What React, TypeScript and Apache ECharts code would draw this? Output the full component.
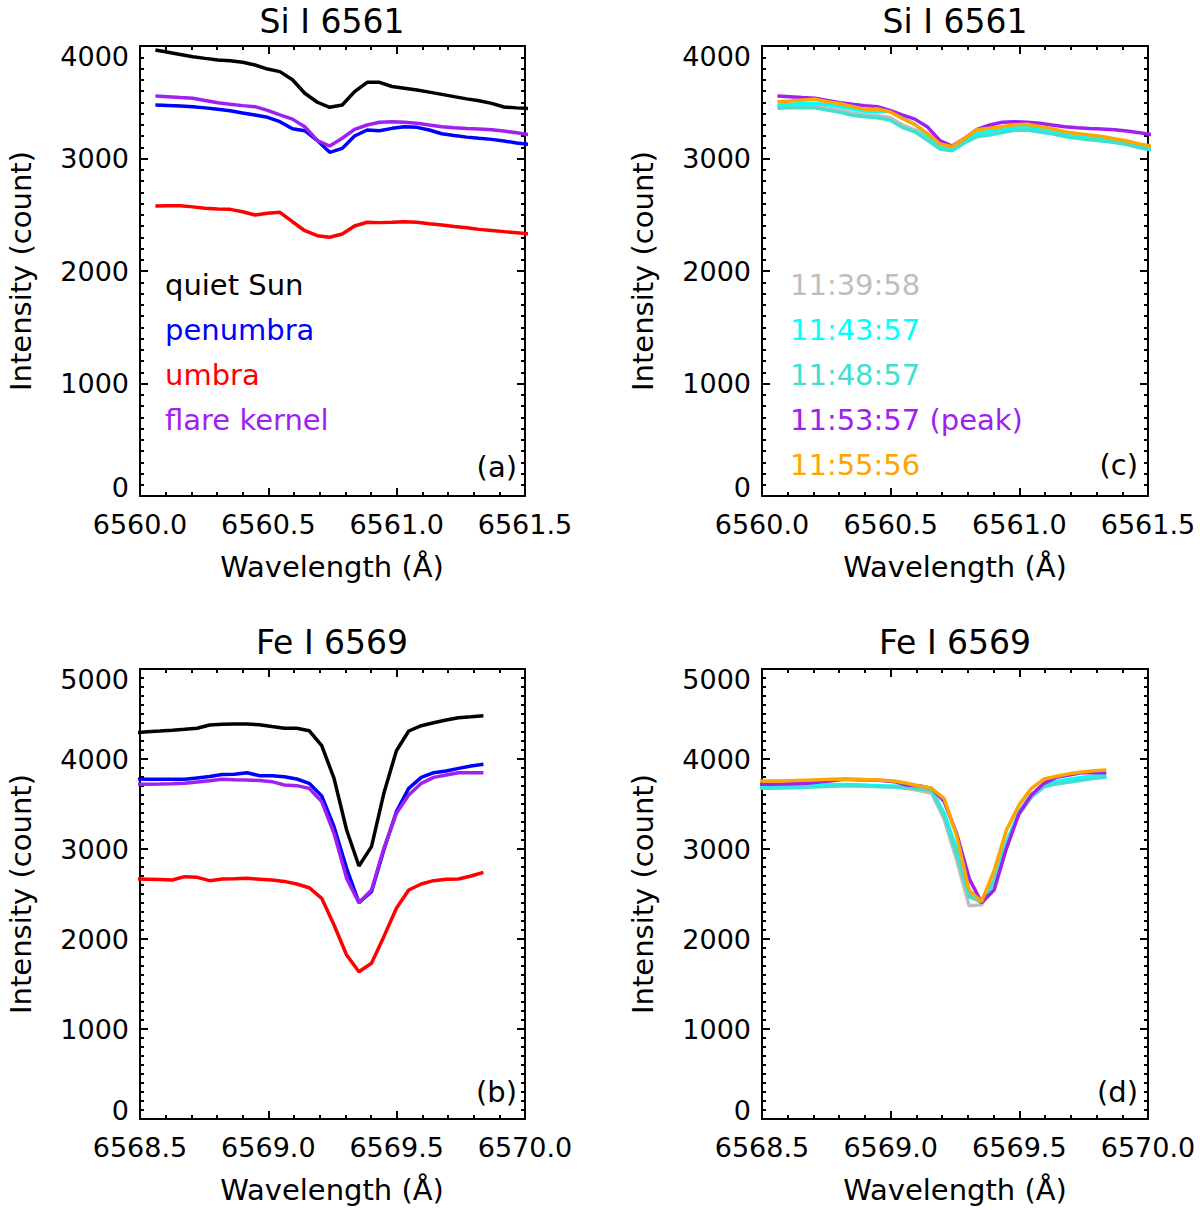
import React, { useEffect, useRef } from "react";
import * as echarts from "echarts";

// Wavelength grids (Å)
const lamSi = [6560.060, 6560.109, 6560.157, 6560.206, 6560.254, 6560.303, 6560.351, 6560.400, 6560.448, 6560.497, 6560.545, 6560.594, 6560.642, 6560.691, 6560.739, 6560.788, 6560.836, 6560.885, 6560.933, 6560.982, 6561.030, 6561.079, 6561.127, 6561.176, 6561.224, 6561.273, 6561.321, 6561.370, 6561.418, 6561.467, 6561.515];
const lamFe = [6568.480, 6568.529, 6568.577, 6568.626, 6568.674, 6568.723, 6568.771, 6568.820, 6568.868, 6568.917, 6568.965, 6569.014, 6569.062, 6569.111, 6569.159, 6569.208, 6569.256, 6569.305, 6569.353, 6569.402, 6569.450, 6569.499, 6569.547, 6569.596, 6569.644, 6569.693, 6569.741, 6569.790, 6569.838];

// Panel (a): Si I 6561 by region
const siQuiet = [3964, 3945, 3925, 3905, 3890, 3876, 3868, 3855, 3831, 3795, 3772, 3700, 3580, 3500, 3455, 3476, 3594, 3677, 3677, 3640, 3625, 3609, 3590, 3570, 3550, 3530, 3514, 3490, 3458, 3450, 3445];
const siPenumbra = [3476, 3472, 3467, 3461, 3450, 3437, 3424, 3405, 3387, 3366, 3327, 3265, 3247, 3160, 3055, 3090, 3200, 3253, 3247, 3268, 3283, 3277, 3253, 3220, 3205, 3190, 3180, 3170, 3156, 3138, 3125];
const siUmbra = [2578, 2580, 2580, 2570, 2557, 2552, 2548, 2527, 2498, 2513, 2522, 2438, 2358, 2314, 2300, 2329, 2400, 2433, 2430, 2433, 2438, 2433, 2420, 2409, 2395, 2385, 2370, 2360, 2350, 2340, 2330];
const siFlare = [3556, 3549, 3542, 3535, 3515, 3496, 3483, 3470, 3461, 3428, 3387, 3350, 3283, 3160, 3111, 3180, 3259, 3298, 3322, 3327, 3322, 3313, 3298, 3283, 3274, 3266, 3262, 3255, 3244, 3228, 3212];

// Panel (b): Fe I 6569 by region
const feQuiet = [4290, 4303, 4310, 4320, 4330, 4341, 4378, 4385, 4389, 4389, 4380, 4360, 4341, 4341, 4314, 4148, 3785, 3211, 2811, 3026, 3619, 4092, 4311, 4370, 4403, 4433, 4459, 4470, 4481];
const fePenumbra = [3778, 3776, 3774, 3774, 3774, 3790, 3805, 3828, 3830, 3848, 3815, 3815, 3803, 3778, 3730, 3589, 3248, 2785, 2404, 2526, 2989, 3415, 3674, 3796, 3848, 3867, 3896, 3922, 3941];
const feUmbra = [2667, 2664, 2660, 2656, 2693, 2685, 2648, 2667, 2670, 2674, 2665, 2655, 2640, 2611, 2570, 2452, 2156, 1822, 1637, 1730, 2026, 2341, 2544, 2611, 2648, 2663, 2667, 2700, 2741];
const feFlare = [3719, 3720, 3722, 3726, 3730, 3745, 3759, 3774, 3770, 3767, 3760, 3748, 3711, 3704, 3674, 3526, 3174, 2674, 2404, 2544, 3007, 3396, 3600, 3730, 3796, 3822, 3848, 3848, 3848];

// Panel (c): Si I 6561 flare kernel by time
const siT1 = [3460, 3465, 3470, 3468, 3450, 3430, 3405, 3390, 3380, 3365, 3300, 3255, 3180, 3090, 3075, 3145, 3210, 3225, 3245, 3262, 3268, 3250, 3235, 3210, 3192, 3178, 3166, 3152, 3135, 3105, 3085];
const siT2 = [3475, 3480, 3488, 3490, 3480, 3462, 3440, 3420, 3415, 3420, 3365, 3300, 3210, 3110, 3085, 3160, 3225, 3240, 3258, 3275, 3280, 3262, 3245, 3220, 3200, 3185, 3172, 3160, 3140, 3115, 3090];
const siT3 = [3446, 3450, 3452, 3450, 3430, 3410, 3385, 3370, 3362, 3342, 3277, 3238, 3164, 3085, 3069, 3140, 3195, 3209, 3230, 3250, 3253, 3235, 3220, 3195, 3180, 3166, 3155, 3141, 3125, 3095, 3075];
const siT4 = siFlare;
const siT5 = [3505, 3512, 3520, 3526, 3505, 3488, 3462, 3437, 3440, 3416, 3357, 3304, 3224, 3130, 3105, 3180, 3255, 3268, 3283, 3300, 3304, 3285, 3265, 3238, 3222, 3208, 3195, 3175, 3155, 3130, 3110];

// Panel (d): Fe I 6569 flare kernel by time
const feT1 = [3690, 3692, 3694, 3696, 3700, 3705, 3710, 3712, 3708, 3702, 3698, 3690, 3672, 3650, 3620, 3330, 2880, 2370, 2380, 2640, 3050, 3380, 3575, 3690, 3725, 3745, 3768, 3790, 3805];
const feT2 = [3690, 3692, 3695, 3698, 3702, 3708, 3714, 3718, 3714, 3708, 3704, 3700, 3688, 3672, 3655, 3400, 3000, 2500, 2405, 2640, 3080, 3410, 3605, 3718, 3750, 3775, 3795, 3810, 3822];
const feT3 = [3674, 3676, 3678, 3680, 3686, 3692, 3698, 3704, 3700, 3696, 3693, 3690, 3680, 3670, 3650, 3370, 2950, 2470, 2410, 2650, 3063, 3390, 3581, 3693, 3725, 3745, 3765, 3785, 3796];
const feT4 = feFlare;
const feT5 = [3756, 3756, 3756, 3760, 3765, 3770, 3775, 3778, 3775, 3770, 3765, 3756, 3730, 3700, 3674, 3560, 3150, 2540, 2415, 2760, 3211, 3490, 3674, 3778, 3808, 3835, 3855, 3870, 3878];

const regionLabels = ["quiet Sun", "penumbra", "umbra", "flare kernel"];
const timeLabels = ["11:39:58", "11:43:57", "11:48:57", "11:53:57 (peak)", "11:55:56"];
const regionColors = ["#000000", "#0000ff", "#ff0000", "#a020f0"];
const timeColors = ["#bebebe", "#00ffff", "#40e0d0", "#a020f0", "#ffa500"];

const FONT = "DejaVu Sans";

export default function App() {
  const ref = useRef<HTMLDivElement>(null);
  useEffect(() => {
    if (!ref.current) return;
    const chart = echarts.init(ref.current, undefined, { renderer: "svg" });

    const grids = [
      { left: 140, top: 46, width: 385, height: 450 },
      { left: 140, top: 669, width: 385, height: 450 },
      { left: 762, top: 46, width: 386, height: 450 },
      { left: 762, top: 669, width: 386, height: 450 },
    ];
    const xr = [
      [6560, 6561.5],
      [6568.5, 6570],
      [6560, 6561.5],
      [6568.5, 6570],
    ];
    const yr = [4000, 5000, 4000, 5000];

    const axLine = { show: true, onZero: false, lineStyle: { color: "#000", width: 2 } };
    const tickFont = { fontSize: 27, fontFamily: FONT, color: "#000" };
    const xAxes: any[] = [];
    const yAxes: any[] = [];
    grids.forEach((g, k) => {
      [false, true].forEach((top) => {
        xAxes.push({
          type: "value",
          gridIndex: k,
          position: top ? "top" : "bottom",
          min: xr[k][0],
          max: xr[k][1],
          interval: 0.5,
          axisLine: axLine,
          axisTick: { show: true, inside: true, length: 8, lineStyle: { color: "#000", width: 2 } },
          minorTick: { show: true, splitNumber: 5, length: 4, lineStyle: { color: "#000", width: 2 } },
          splitLine: { show: false },
          axisLabel: {
            show: !top,
            margin: 15,
            ...tickFont,
            showMinLabel: true,
            showMaxLabel: true,
            formatter: (v: number) => v.toFixed(1),
          },
        });
        const ymax = yr[k];
        yAxes.push({
          type: "value",
          gridIndex: k,
          position: top ? "right" : "left",
          min: 0,
          max: ymax,
          interval: 1000,
          axisLine: axLine,
          axisTick: { show: true, inside: true, length: 8, lineStyle: { color: "#000", width: 2 } },
          minorTick: { show: true, splitNumber: 10, length: 4, lineStyle: { color: "#000", width: 2 } },
          splitLine: { show: false },
          axisLabel: {
            show: !top,
            margin: 11,
            ...tickFont,
            showMinLabel: true,
            showMaxLabel: true,
            formatter: (v: number) => (v === ymax ? `{t|${v}}` : v === 0 ? `{b|${v}}` : String(v)),
            rich: {
              t: { ...tickFont, padding: [20, 0, 0, 0] },
              b: { ...tickFont, padding: [0, 0, 18, 0] },
            },
          },
        });
      });
    });

    const mk = (name: string, lam: number[], vals: number[], color: string, panel: number) => ({
      type: "line",
      name,
      xAxisIndex: panel * 2,
      yAxisIndex: panel * 2,
      data: lam.map((x, i) => [x, vals[i]]),
      showSymbol: false,
      symbol: "none",
      clip: true,
      lineStyle: { color, width: 3.5 },
      itemStyle: { color },
      emphasis: { disabled: true },
    });

    const regionSi = [siQuiet, siPenumbra, siUmbra, siFlare];
    const regionFe = [feQuiet, fePenumbra, feUmbra, feFlare];
    const timeSi = [siT1, siT2, siT3, siT4, siT5];
    const timeFe = [feT1, feT2, feT3, feT4, feT5];

    const series: any[] = [];
    regionSi.forEach((v, i) => series.push(mk(regionLabels[i], lamSi, v, regionColors[i], 0)));
    regionFe.forEach((v, i) => series.push(mk(regionLabels[i], lamFe, v, regionColors[i], 1)));
    timeSi.forEach((v, i) => series.push(mk(timeLabels[i], lamSi, v, timeColors[i], 2)));
    timeFe.forEach((v, i) => series.push(mk(timeLabels[i], lamFe, v, timeColors[i], 3)));

    const txt = (text: string, x: number, y: number, size: number, color = "#000", align = "center", rotation = 0) => ({
      type: "text",
      x,
      y,
      rotation,
      style: { text, fill: color, font: `${size}px "${FONT}"`, textAlign: align, textVerticalAlign: "middle" },
      z: 10,
    });

    const graphics: any[] = [
      txt("Si I 6561", 332, 21, 33),
      txt("Si I 6561", 955, 21, 33),
      txt("Fe I 6569", 332, 642, 33),
      txt("Fe I 6569", 955, 642, 33),
      txt("Wavelength (Å)", 332, 567, 29),
      txt("Wavelength (Å)", 955, 567, 29),
      txt("Wavelength (Å)", 332, 1190, 29),
      txt("Wavelength (Å)", 955, 1190, 29),
      txt("Intensity (count)", 21, 271, 29, "#000", "center", Math.PI / 2),
      txt("Intensity (count)", 643, 271, 29, "#000", "center", Math.PI / 2),
      txt("Intensity (count)", 21, 894, 29, "#000", "center", Math.PI / 2),
      txt("Intensity (count)", 643, 894, 29, "#000", "center", Math.PI / 2),
      txt("(a)", 517, 467, 29, "#000", "right"),
      txt("(b)", 517, 1092, 29, "#000", "right"),
      txt("(c)", 1138, 465, 29, "#000", "right"),
      txt("(d)", 1138, 1092, 29, "#000", "right"),
    ];
    regionLabels.forEach((l, i) => graphics.push(txt(l, 165, 285 + 45 * i, 29, regionColors[i], "left")));
    timeLabels.forEach((l, i) => graphics.push(txt(l, 790, 285 + 45 * i, 29, timeColors[i], "left")));

    chart.setOption({
      animation: false,
      backgroundColor: "#fff",
      grid: grids.map((g) => ({ ...g, containLabel: false })),
      xAxis: xAxes,
      yAxis: yAxes,
      series,
      graphic: graphics,
    });
    return () => chart.dispose();
  }, []);
  return (
    <div
      ref={ref}
      style={{ position: "absolute", left: 0, top: 0, width: 1200, height: 1210, background: "#fff" }}
    />
  );
}
